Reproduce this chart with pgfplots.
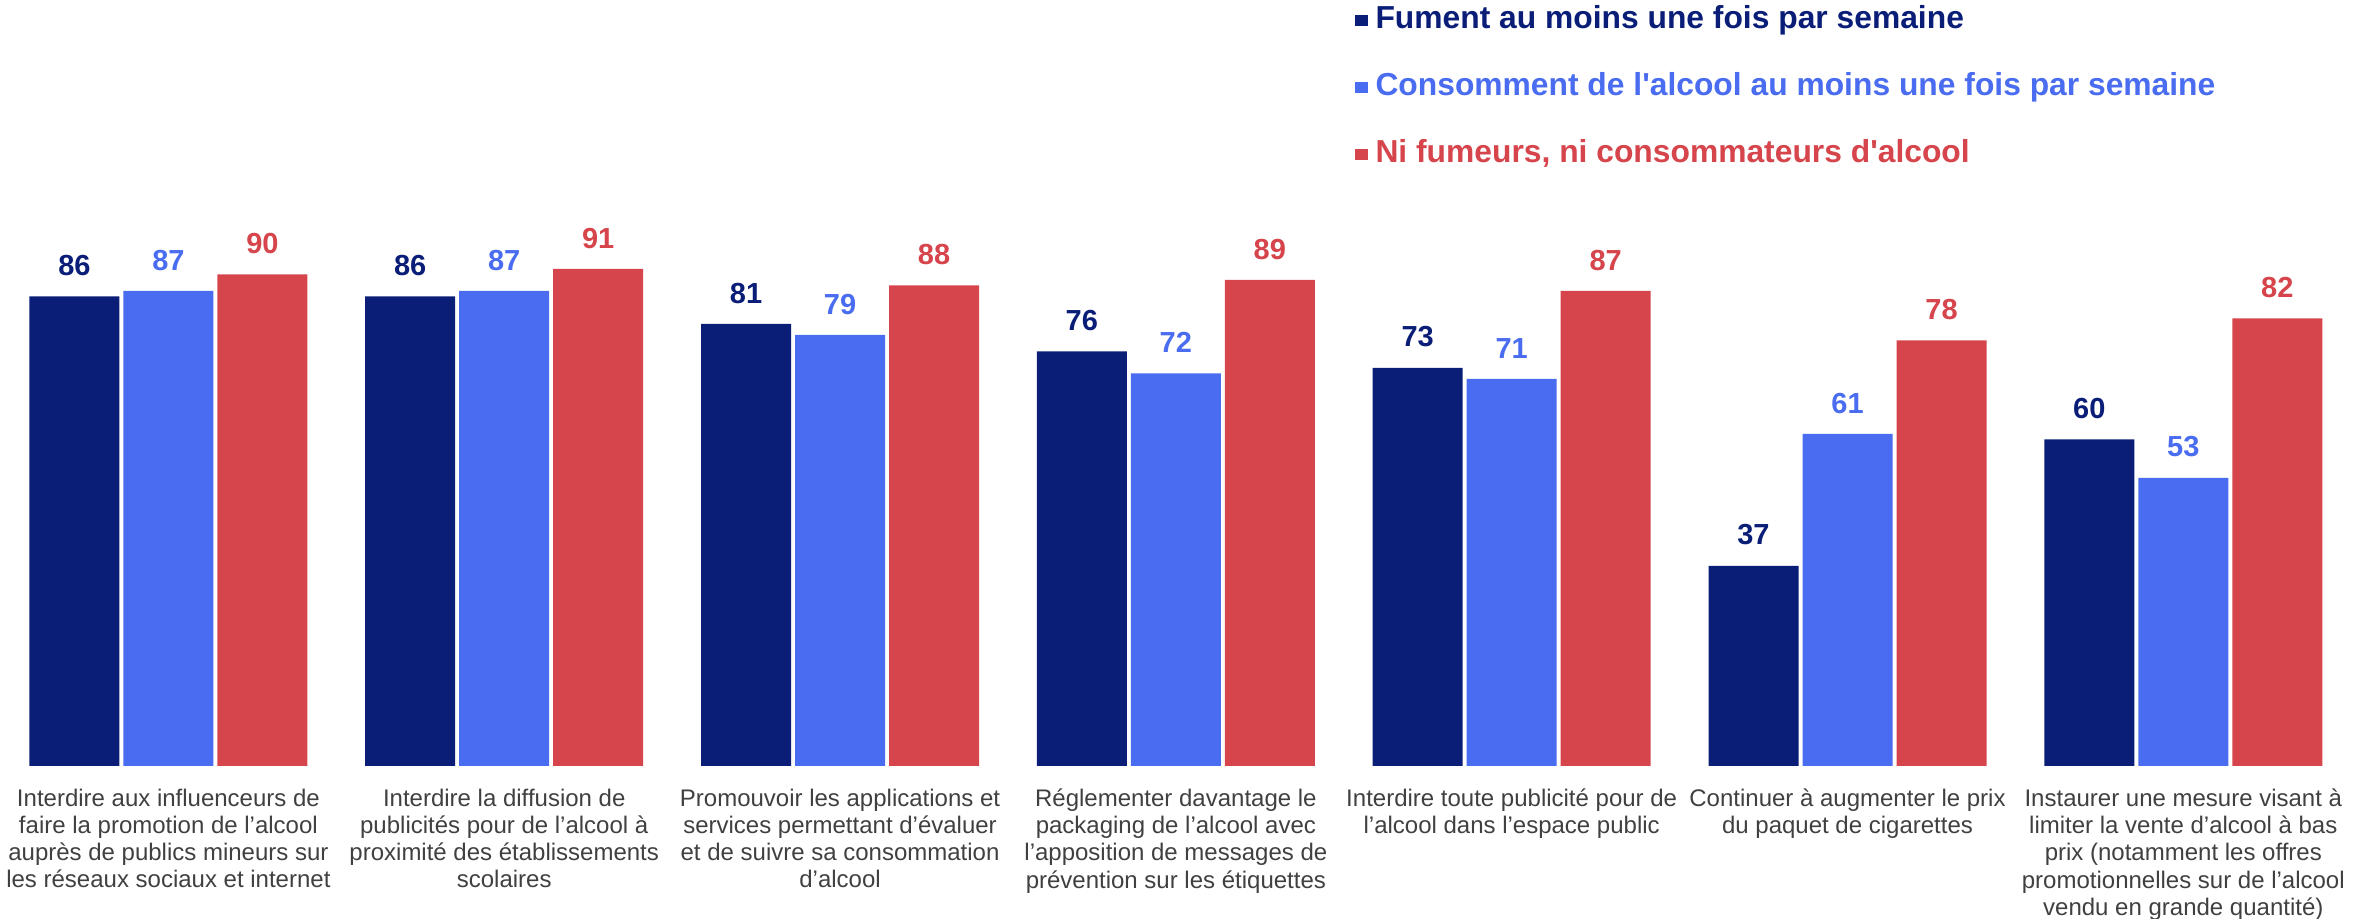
\documentclass[border=0pt]{standalone}
\usepackage{pgfplots}
\pgfplotsset{compat=1.18}
\usepackage{fontspec}
\setmainfont{Liberation Sans}[Ligatures=TeXOff]
\definecolor{navy}{HTML}{0A1E78}
\definecolor{bleu}{HTML}{4A6CF0}
\definecolor{rouge}{HTML}{D6454B}
\definecolor{txt}{HTML}{404040}
\begin{document}
\begin{tikzpicture}
\begin{axis}[
  scale only axis,
  width=1187pt, height=459.5pt,
  xmin=-0.5015, xmax=6.568,
  ymin=-27.18, ymax=139.91,
  clip=false,
  axis on top=true,
  axis x line=middle,
  axis y line=none,
  x axis line style={draw=white, line width=3.5pt, -},
  major tick length=0pt,
  ytick=\empty,
  xtick={0,1,2,3,4,5,6},
  xticklabels={
    {Interdire aux influenceurs de\\faire la promotion de l’alcool\\auprès de publics mineurs sur\\les réseaux sociaux et internet},
    {Interdire la diffusion de\\publicités pour de l’alcool à\\proximité des établissements\\scolaires},
    {Promouvoir les applications et\\services permettant d’évaluer\\et de suivre sa consommation\\d’alcool},
    {Réglementer davantage le\\packaging de l’alcool avec\\l’apposition de messages de\\prévention sur les étiquettes},
    {Interdire toute publicité pour de\\l’alcool dans l’espace public},
    {Continuer à augmenter le prix\\du paquet de cigarettes},
    {Instaurer une mesure visant à\\limiter la vente d’alcool à bas\\prix (notamment les offres\\promotionnelles sur de l’alcool\\vendu en grande quantité)}
  },
  xticklabel style={align=center, anchor=north, inner sep=0pt, yshift=-9.5pt,
    text=txt, font=\fontsize{12}{13.6}\selectfont},
  /pgf/number format/assume math mode=true,
  ybar,
  bar width=45pt,
  legend style={draw=none, fill=none, at={(rel axis cs:0.5708,0.99304)}, anchor=north west,
    inner sep=0pt, outer sep=0pt, row sep=19.6pt, column sep=4pt,
    nodes={inner sep=0pt, text height=11pt, text depth=3pt},
    font=\bfseries\fontsize{15.9}{18}\selectfont},
  legend cell align=left,
  legend image code/.code={\fill[#1] (0pt,-2.75pt) rectangle (6.2pt,2.75pt);},
  nodes near coords,
  every node near coord/.append style={anchor=south, inner sep=0pt, yshift=10.15pt,
    font=\bfseries\fontsize{14.5}{17}\selectfont},
]
\addplot[ybar, bar shift=-47pt, fill=navy, draw=none,
  every node near coord/.append style={text=navy}]
  coordinates {(0,86) (1,86) (2,81) (3,76) (4,73) (5,37) (6,60)};
\addlegendentry{\textcolor{navy}{Fument au moins une fois par semaine}}
\addplot[ybar, bar shift=0pt, fill=bleu, draw=none,
  every node near coord/.append style={text=bleu}]
  coordinates {(0,87) (1,87) (2,79) (3,72) (4,71) (5,61) (6,53)};
\addlegendentry{\textcolor{bleu}{Consomment de l'alcool au moins une fois par semaine}}
\addplot[ybar, bar shift=47pt, fill=rouge, draw=none,
  every node near coord/.append style={text=rouge}]
  coordinates {(0,90) (1,91) (2,88) (3,89) (4,87) (5,78) (6,82)};
\addlegendentry{\textcolor{rouge}{Ni fumeurs, ni consommateurs d'alcool}}
\end{axis}
\pgfresetboundingbox
\useasboundingbox (0,0) rectangle (1187pt,459.5pt);
\end{tikzpicture}
\end{document}
